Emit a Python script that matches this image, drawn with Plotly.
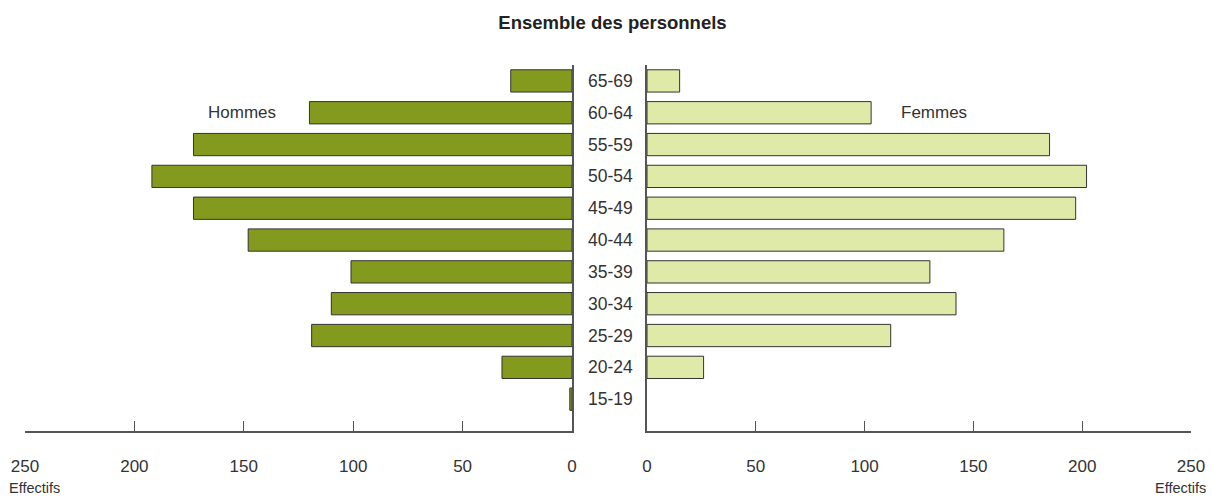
import plotly.graph_objects as go

ages = ['15-19', '20-24', '25-29', '30-34', '35-39', '40-44',
        '45-49', '50-54', '55-59', '60-64', '65-69']
hommes = [1, 32, 119, 110, 101, 148, 173, 192, 173, 120, 28]
femmes = [None, 26, 112, 142, 130, 164, 197, 202, 185, 103, 15]  # no women aged 15-19
ticks = [0, 50, 100, 150, 200, 250]

FONT = 'Liberation Sans, Arial, sans-serif'
TXT = '#333333'
LINE = '#555555'

fig = go.Figure()
fig.add_trace(go.Bar(
    y=list(range(len(ages))), x=hommes, orientation='h', width=0.7,
    marker=dict(color='#849a1f', line=dict(color='#333333', width=1)),
    xaxis='x', yaxis='y', name='Hommes',
))
fig.add_trace(go.Bar(
    y=list(range(len(ages))), x=femmes, orientation='h', width=0.7,
    marker=dict(color='#dfe9a8', line=dict(color='#333333', width=1)),
    xaxis='x2', yaxis='y2', name='Femmes',
))

xax = dict(
    tickvals=ticks, ticks='inside', ticklen=10, tickcolor=LINE,
    showline=True, linecolor=LINE, linewidth=1.5, showgrid=False, zeroline=False,
    tickfont=dict(size=17, color=TXT), ticklabelstandoff=19, fixedrange=True,
    automargin=False,
)
yax = dict(
    range=[-1, 10.5], showticklabels=False, showgrid=False, zeroline=False,
    showline=True, linecolor=LINE, linewidth=1.5, ticks='', fixedrange=True,
    automargin=False,
)

annotations = [dict(
    x=610 / 1212, xref='paper', y=i, yref='y', text=a, showarrow=False,
    font=dict(size=17.5, color=TXT), xanchor='center',
) for i, a in enumerate(ages)]
annotations += [
    dict(x=151, xref='x', y=9, yref='y', text='Hommes', showarrow=False,
         font=dict(size=17, color=TXT), xanchor='center'),
    dict(x=132, xref='x2', y=9, yref='y2', text='Femmes', showarrow=False,
         font=dict(size=17, color=TXT), xanchor='center'),
    dict(x=0.006, xref='paper', y=0, yref='paper', yshift=-57, text='Effectifs',
         showarrow=False, font=dict(size=14.5, color=TXT), xanchor='left', yanchor='middle'),
    dict(x=0.997, xref='paper', y=0, yref='paper', yshift=-57, text='Effectifs',
         showarrow=False, font=dict(size=14.5, color=TXT), xanchor='right', yanchor='middle'),
]

fig.update_layout(
    width=1212, height=496,
    paper_bgcolor='white', plot_bgcolor='white',
    font=dict(family=FONT, color=TXT),
    margin=dict(l=0, r=0, t=65, b=65),
    showlegend=False,
    title=dict(text='<b>Ensemble des personnels</b>', x=612.5 / 1212, xanchor='center',
               y=0.955, yanchor='middle', font=dict(size=18.5, color='#222222')),
    xaxis=dict(**xax, range=[250, 0], domain=[25 / 1212, 572 / 1212], anchor='y'),
    xaxis2=dict(**xax, range=[0, 250], domain=[647 / 1212, 1191 / 1212], anchor='y2'),
    yaxis=dict(**yax, side='right', anchor='x'),
    yaxis2=dict(**yax, side='left', anchor='x2'),
    annotations=annotations,
)

fig.write_html('out.html', config={'displayModeBar': False},
               post_script="document.body.style.margin='0';document.body.style.overflow='hidden';")
